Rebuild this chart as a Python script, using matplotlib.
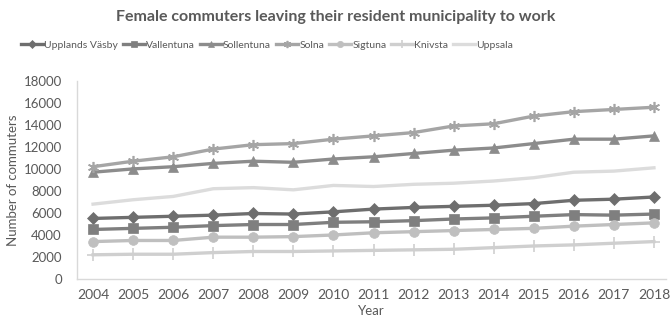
import matplotlib
matplotlib.use("Agg")
import matplotlib.pyplot as plt
import numpy as np

plt.rcParams["font.family"] = ["Lato", "DejaVu Sans"]

years = [str(y) for y in range(2004, 2019)]

upplands_vasby = [5500, 5600, 5700, 5800, 5950, 5900, 6100, 6350, 6500, 6600, 6700, 6850, 7150, 7250, 7450]
vallentuna     = [4500, 4600, 4700, 4850, 4950, 4950, 5150, 5200, 5300, 5450, 5550, 5700, 5850, 5800, 5900]
sollentuna     = [9700, 10000, 10200, 10500, 10700, 10600, 10900, 11100, 11400, 11700, 11900, 12300, 12700, 12700, 13000]
solna          = [10200, 10700, 11100, 11800, 12200, 12300, 12700, 13000, 13300, 13900, 14100, 14800, 15200, 15400, 15600]
sigtuna        = [3400, 3500, 3500, 3800, 3800, 3850, 4000, 4200, 4300, 4400, 4500, 4600, 4800, 4950, 5100]
knivsta        = [2200, 2250, 2250, 2400, 2500, 2500, 2550, 2600, 2650, 2700, 2850, 3000, 3100, 3250, 3400]
uppsala        = [6800, 7200, 7500, 8200, 8300, 8100, 8500, 8400, 8600, 8700, 8900, 9200, 9700, 9800, 10100]

series = [
    ("Upplands Väsby", upplands_vasby, "#6e6e6e", "D", 6),
    ("Vallentuna", vallentuna, "#7f7f7f", "s", 7),
    ("Sollentuna", sollentuna, "#8c8c8c", "^", 7),
    ("Solna", solna, "#a5a5a5", (6, 2, 0), 8),
    ("Sigtuna", sigtuna, "#bfbfbf", "o", 7),
    ("Knivsta", knivsta, "#cfcfcf", "+", 8),
    ("Uppsala", uppsala, "#dcdcdc", None, 0),
]

fig = plt.figure(figsize=(6.71, 3.22), dpi=100)
ax = fig.add_axes([0.1148, 0.1335, 0.8777, 0.6155])

x = np.arange(len(years))
for name, vals, col, mk, ms in series:
    kw = {}
    if mk is not None:
        kw = dict(marker=mk, markersize=ms, markerfacecolor=col, markeredgecolor=col,
                  markeredgewidth=1.2 if mk in ("+", (6, 2, 0)) else 0.5)
    ax.plot(x, vals, color=col, linewidth=2.4, label=name, **kw)

ax.set_xlim(-0.4, 14.3)
ax.set_ylim(0, 18000)
ax.set_yticks(range(0, 18001, 2000))
ax.set_xticks(x)
ax.set_xticklabels(years)

for s in ("top", "right"):
    ax.spines[s].set_visible(False)
for s in ("left", "bottom"):
    ax.spines[s].set_color("#d9d9d9")
    ax.spines[s].set_linewidth(1.0)

ax.tick_params(axis="both", length=0, colors="#595959")
ax.tick_params(axis="y", labelsize=9.5, pad=11)
ax.tick_params(axis="x", labelsize=10, pad=7)

ax.set_xlabel("Year", fontsize=9.5, color="#595959", labelpad=3)
ax.set_ylabel("Number of commuters", fontsize=9.5, color="#595959", labelpad=3)

fig.text(0.5, 0.947, "Female commuters leaving their resident municipality to work",
         ha="center", va="center", fontsize=11.5, fontweight="bold", color="#595959")

fig.legend(loc="center", bbox_to_anchor=(0.398, 0.86), ncol=7, frameon=False,
           fontsize=7.5, handlelength=2.1, columnspacing=0.45, handletextpad=0.15,
           markerscale=0.65, borderpad=0.1, labelcolor="#595959")

fig.savefig("out.png", dpi=100)
